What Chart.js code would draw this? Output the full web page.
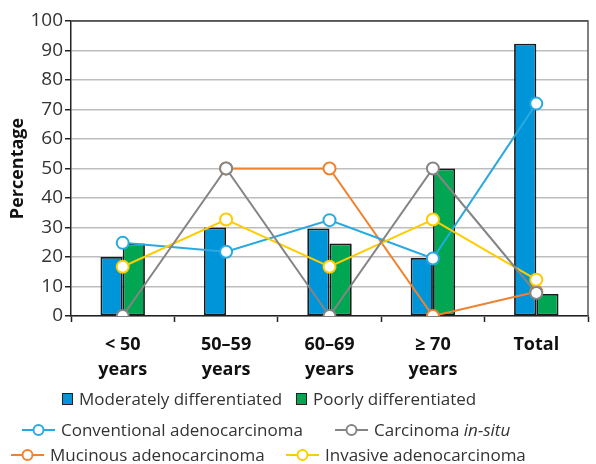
<!DOCTYPE html>
<html>
<head>
<meta charset="utf-8">
<script src="https://cdn.jsdelivr.net/npm/chart.js@4.4.1/dist/chart.umd.min.js"></script>
<style>
    html, body { margin: 0; padding: 0; background: #fff; }
    #wrap { position: relative; width: 596px; height: 464px; }
    #chart { position: absolute; left: 0; top: 0; }
    .legend-item {
        position: absolute;
        display: flex;
        align-items: center;
        font-family: "Open Sans", sans-serif;
        font-size: 17px;
        color: #333;
        white-space: nowrap;
        line-height: 20px;
    }
    .legend-item .box {
        width: 9px; height: 10px;
        border: 1px solid #222;
        margin-right: 6px;
    }
    .legend-item svg { margin-right: 6px; }
</style>
</head>
<body>
<div id="wrap">
    <canvas id="chart" width="596" height="464"></canvas>
    <div id="legend"></div>
</div>
<script>
// Chart data
const categories = [['< 50', 'years'], ['50–59', 'years'], ['60–69', 'years'], ['≥ 70', 'years'], ['Total']];
const moderately = [20, 30, 29.7, 19.7, 92.3];
const poorly = [24.6, null, 24.6, 50, 7.5];
const conventional = [24.8, 21.8, 32.5, 19.5, 72];
const carcinomaInSitu = [0, 50, 0, 50, 7.8];
const mucinous = [null, 50, 50, 0, 8.2];
const invasive = [16.7, 32.7, 16.7, 32.7, 12.3];
const yTicks = [0, 10, 20, 30, 40, 50, 60, 70, 80, 90, 100];

const colors = {
    moderately: '#0095d8',
    poorly: '#00a651',
    conventional: '#27aae1',
    carcinoma: '#858585',
    mucinous: '#f0822d',
    invasive: '#ffcc00'
};

document.addEventListener('DOMContentLoaded', function() {
    drawChart();
    buildLegend();
});

// line + circle dataset helper
function lineSet(label, data, color, order) {
    return {
        type: 'line',
        label: label,
        data: data,
        borderColor: color,
        borderWidth: 2,
        backgroundColor: '#fff',
        pointBackgroundColor: '#fff',
        pointBorderColor: color,
        pointBorderWidth: 2,
        pointRadius: 6,
        tension: 0,
        order: order
    };
}

// top and right border of the plot box
const framePlugin = {
    id: 'frame',
    afterDatasetsDraw(chart) {
        const { ctx, chartArea } = chart;
        ctx.save();
        ctx.strokeStyle = '#555';
        ctx.lineWidth = 1.5;
        ctx.beginPath();
        ctx.moveTo(chartArea.left, chartArea.top);
        ctx.lineTo(chartArea.right, chartArea.top);
        ctx.lineTo(chartArea.right, chartArea.bottom);
        ctx.stroke();
        ctx.restore();
    }
};

function drawChart() {
    const ctx = document.getElementById('chart').getContext('2d');
    new Chart(ctx, {
        type: 'bar',
        data: {
            labels: categories,
            datasets: [
                {
                    label: 'Moderately differentiated',
                    data: moderately,
                    backgroundColor: colors.moderately,
                    borderColor: '#1a1a1a',
                    borderWidth: 1.8,
                    borderSkipped: false,
                    order: 10
                },
                {
                    label: 'Poorly differentiated',
                    data: poorly,
                    backgroundColor: colors.poorly,
                    borderColor: '#1a1a1a',
                    borderWidth: 1.8,
                    borderSkipped: false,
                    order: 10
                },
                lineSet('Mucinous adenocarcinoma', mucinous, colors.mucinous, 4),
                lineSet('Conventional adenocarcinoma', conventional, colors.conventional, 3),
                lineSet('Invasive adenocarcinoma', invasive, colors.invasive, 2),
                lineSet('Carcinoma in-situ', carcinomaInSitu, colors.carcinoma, 1)
            ]
        },
        options: {
            responsive: false,
            animation: false,
            datasets: {
                bar: { categoryPercentage: 0.43, barPercentage: 1 }
            },
            layout: { padding: { top: 21, right: 1, bottom: 78, left: 0 } },
            plugins: {
                legend: { display: false },
                tooltip: { enabled: false }
            },
            scales: {
                x: {
                    offset: true,
                    grid: {
                        offset: true,
                        drawOnChartArea: false,
                        drawTicks: true,
                        tickLength: 6,
                        tickColor: '#222',
                        tickWidth: 1.5
                    },
                    border: { color: '#222', width: 1.5 },
                    ticks: {
                        padding: 11,
                        color: '#111',
                        font: { family: 'Open Sans', size: 18, weight: 'bold', lineHeight: 1.35 }
                    },
                    afterFit: function(scale) { scale.height = 70; }
                },
                y: {
                    min: 0,
                    max: 100,
                    afterBuildTicks: function(scale) {
                        scale.ticks = yTicks.map(v => ({ value: v }));
                    },
                    grid: {
                        color: ctx => ctx.tick && ctx.tick.value === 100 ? '#555' : '#bdbdbd',
                        lineWidth: 1.5,
                        drawTicks: true,
                        tickLength: 6,
                        tickColor: '#222'
                    },
                    border: { color: '#222', width: 1.5 },
                    ticks: {
                        padding: 2,
                        color: '#333',
                        font: { family: 'Open Sans', size: 19 }
                    },
                    title: {
                        display: true,
                        text: 'Percentage',
                        color: '#111',
                        padding: { top: 7, bottom: 0 },
                        font: { family: 'Open Sans', size: 18, weight: 'bold' }
                    },
                    afterFit: function(scale) { scale.width = 71; }
                }
            }
        },
        plugins: [framePlugin]
    });
}

// HTML legend so "in-situ" can be italic
function buildLegend() {
    const legend = document.getElementById('legend');
    const items = [
        { kind: 'box', color: colors.moderately, html: 'Moderately differentiated', x: 62, y: 389 },
        { kind: 'box', color: colors.poorly, html: 'Poorly differentiated', x: 296, y: 389 },
        { kind: 'line', color: colors.conventional, html: 'Conventional adenocarcinoma', x: 22, y: 420 },
        { kind: 'line', color: colors.carcinoma, html: 'Carcinoma <i>in-situ</i>', x: 335, y: 420 },
        { kind: 'line', color: colors.mucinous, html: 'Mucinous adenocarcinoma', x: 11, y: 445 },
        { kind: 'line', color: colors.invasive, html: 'Invasive adenocarcinoma', x: 286, y: 445 }
    ];
    items.forEach(item => {
        const el = document.createElement('div');
        el.className = 'legend-item';
        el.style.left = item.x + 'px';
        el.style.top = item.y + 'px';
        let symbol;
        if (item.kind === 'box') {
            symbol = `<span class="box" style="background:${item.color}"></span>`;
        } else {
            symbol = `<svg width="33" height="14"><line x1="0" y1="7" x2="33" y2="7" stroke="${item.color}" stroke-width="2"/>` +
                     `<circle cx="16.5" cy="7" r="5" fill="#fff" stroke="${item.color}" stroke-width="2"/></svg>`;
        }
        el.innerHTML = symbol + '<span>' + item.html + '</span>';
        legend.appendChild(el);
    });
}
</script>
</body>
</html>
